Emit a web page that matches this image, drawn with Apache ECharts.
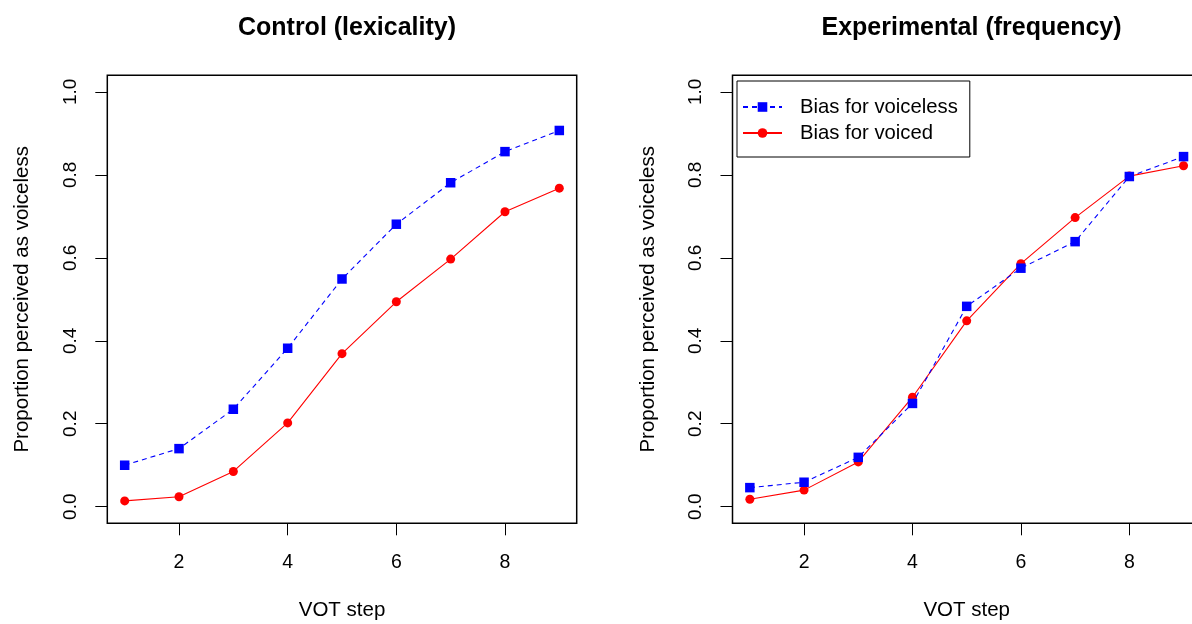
<!DOCTYPE html>
<html>
<head>
<meta charset="utf-8">
<script src="https://cdn.jsdelivr.net/npm/echarts@6/dist/echarts.min.js"></script>
<style>
html,body{margin:0;padding:0;background:#fff;}
#chart{width:1192px;height:624px;}
</style>
</head>
<body>
<div id="chart"></div>
<script>
// ---- data ----
const votSteps = [1, 2, 3, 4, 5, 6, 7, 8, 9];
const controlVoiceless = [0.100, 0.140, 0.235, 0.382, 0.549, 0.681, 0.781, 0.856, 0.907];
const controlVoiced    = [0.014, 0.024, 0.085, 0.202, 0.369, 0.494, 0.597, 0.711, 0.768];
const expVoiceless     = [0.046, 0.059, 0.119, 0.249, 0.483, 0.575, 0.639, 0.796, 0.844];
const expVoiced        = [0.018, 0.040, 0.108, 0.264, 0.448, 0.586, 0.697, 0.797, 0.822];
const xTicks = [2, 4, 6, 8];
const yTicks = [0, 0.2, 0.4, 0.6, 0.8, 1.0];
const panelTitles = ['Control (lexicality)', 'Experimental (frequency)'];
const seriesNames = ['Bias for voiceless', 'Bias for voiced'];
const xName = 'VOT step';
const yName = 'Proportion perceived as voiceless';

const FONT = '"Liberation Sans", Arial, sans-serif';
const pair = (ys) => votSteps.map((x, i) => [x, ys[i]]);

const grids = [
  {left: 107.3, top: 75.3, width: 469.4, height: 448},
  {left: 732.5, top: 75.3, width: 468.4, height: 448}
];

function xAxisFor(i) {
  return {
    type: 'value', gridIndex: i, min: 0.68, max: 9.32, position: 'bottom',
    name: xName, nameLocation: 'middle', nameGap: 77,
    nameTextStyle: {fontFamily: FONT, fontSize: 20.5, color: '#000'},
    axisLine: {show: false, onZero: false},
    splitLine: {show: false},
    axisTick: {show: true, length: 12, inside: false, customValues: xTicks,
               lineStyle: {color: '#000', width: 1}},
    axisLabel: {customValues: xTicks, margin: 29, fontFamily: FONT, fontSize: 19.5, color: '#000'}
  };
}
function yAxisFor(i) {
  return {
    type: 'value', gridIndex: i, min: -0.04, max: 1.04, position: 'left',
    name: yName, nameLocation: 'middle', nameGap: 74,
    nameTextStyle: {fontFamily: FONT, fontSize: 20.5, color: '#000'},
    axisLine: {show: false, onZero: false},
    splitLine: {show: false},
    axisTick: {show: true, length: 12, inside: false, customValues: yTicks,
               lineStyle: {color: '#000', width: 1}},
    axisLabel: {customValues: yTicks, rotate: 90, margin: 27, fontFamily: FONT, fontSize: 19, color: '#000',
                formatter: v => v.toFixed(1)}
  };
}
function lineSeries(name, data, i, isVoiceless) {
  return {
    name: name, type: 'line', xAxisIndex: i, yAxisIndex: i,
    data: pair(data),
    symbol: isVoiceless ? 'rect' : 'circle',
    symbolSize: isVoiceless ? 9.5 : 9,
    showSymbol: true,
    animation: false,
    itemStyle: {color: isVoiceless ? '#0000ff' : '#ff0000'},
    lineStyle: {color: isVoiceless ? '#0000ff' : '#ff0000', width: 1.1,
                type: isVoiceless ? [5, 4] : 'solid'},
    z: isVoiceless ? 3 : 2
  };
}

const option = {
  backgroundColor: '#fff',
  animation: false,
  title: [
    {text: panelTitles[0], left: 342, top: 11, textAlign: 'center',
     textStyle: {fontFamily: FONT, fontSize: 25, fontWeight: 'bold', color: '#000'}},
    {text: panelTitles[1], left: 966.5, top: 11, textAlign: 'center',
     textStyle: {fontFamily: FONT, fontSize: 25, fontWeight: 'bold', color: '#000'}}
  ],
  grid: grids.map(g => Object.assign({show: true, borderColor: '#000', borderWidth: 1.5,
                                      backgroundColor: 'transparent', outerBoundsMode: 'none'}, g)),
  xAxis: [xAxisFor(0), xAxisFor(1)],
  yAxis: [yAxisFor(0), yAxisFor(1)],
  legend: {
    show: true, orient: 'vertical', left: 737, top: 81,
    data: seriesNames,
    backgroundColor: '#fff',
    borderColor: '#000', borderWidth: 1, borderRadius: 0,
    padding: [16, 12, 14, 5],
    itemWidth: 39, itemHeight: 12, itemGap: 6,
    textStyle: {fontFamily: FONT, fontSize: 20.3, color: '#000', lineHeight: 19, padding: [0, 0, 0, 13]},
    selectedMode: false
  },
  series: [
    lineSeries(seriesNames[0], controlVoiceless, 0, true),
    lineSeries(seriesNames[1], controlVoiced, 0, false),
    lineSeries(seriesNames[0], expVoiceless, 1, true),
    lineSeries(seriesNames[1], expVoiced, 1, false)
  ]
};

const chart = echarts.init(document.getElementById('chart'), null, {renderer: 'canvas'});
chart.setOption(option);
</script>
</body>
</html>
